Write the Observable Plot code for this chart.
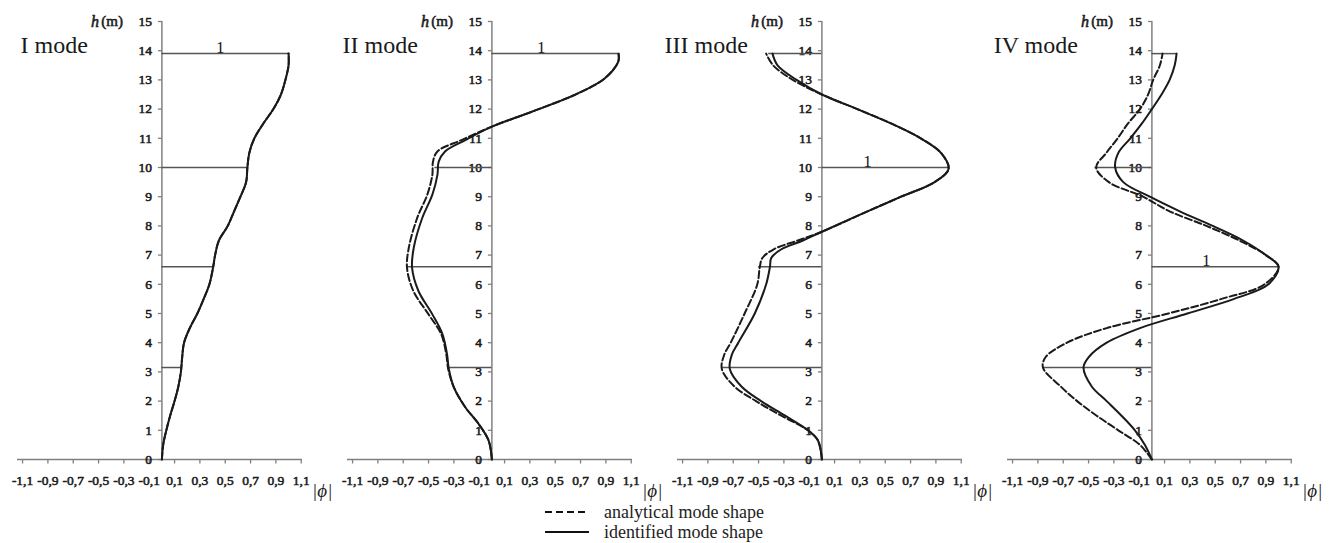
<!DOCTYPE html>
<html>
<head>
<meta charset="utf-8">
<script src="https://cdn.jsdelivr.net/npm/d3@7"></script>
<script src="https://cdn.jsdelivr.net/npm/@observablehq/plot@0.6"></script>
<style>
  body { margin: 0; background: #fff; font-family: "Liberation Serif", serif; }
  #chart { position: absolute; left: 0; top: 0; }
  #legend { position: absolute; left: 545px; top: 502px; font-size: 18px; color: #222; }
  .row { height: 20px; display: flex; align-items: center; }
  .row svg { margin-right: 15px; }
</style>
</head>
<body>
<div id="chart"></div>
<div id="legend">
  <div class="row"><svg width="44" height="20"><line x1="0" x2="44" y1="10" y2="10" stroke="#111" stroke-width="2" stroke-dasharray="7,4"/></svg><span>analytical mode shape</span></div>
  <div class="row"><svg width="44" height="20"><line x1="0" x2="44" y1="10" y2="10" stroke="#111" stroke-width="2"/></svg><span>identified mode shape</span></div>
</div>
<script>
// ---- data ----
const modes = ["I mode", "II mode", "III mode", "IV mode"];

const hMode1 = [0, 0.5, 1, 1.5, 2, 2.5, 3, 3.5, 4, 4.5, 5, 5.5, 6, 6.6, 7, 7.5, 8, 8.5, 9, 9.5, 10, 10.5, 11, 11.5, 12, 12.5, 13, 13.5, 13.9];
const identMode1 = [0, 0.01, 0.035, 0.065, 0.1, 0.13, 0.15, 0.16, 0.175, 0.22, 0.28, 0.33, 0.375, 0.405, 0.42, 0.45, 0.52, 0.57, 0.62, 0.665, 0.675, 0.69, 0.73, 0.8, 0.88, 0.94, 0.975, 1.0, 1.0];
const analMode1 = identMode1;

const hMode2 = [0, 0.65, 1.22, 1.79, 2.47, 3.1, 3.6, 4.29, 4.97, 5.77, 6.56, 7.25, 8.27, 9.07, 9.75, 10.2, 10.55, 10.94, 11.4, 11.91, 12.54, 13.05, 13.62, 13.9];
const identMode2 = [0, -0.026, -0.105, -0.21, -0.30, -0.34, -0.354, -0.39, -0.47, -0.58, -0.63, -0.617, -0.55, -0.47, -0.43, -0.42, -0.37, -0.21, 0, 0.315, 0.68, 0.89, 0.997, 1.0];
const analMode2 = [0, -0.026, -0.105, -0.21, -0.30, -0.345, -0.36, -0.40, -0.50, -0.62, -0.67, -0.656, -0.59, -0.51, -0.47, -0.465, -0.43, -0.24, 0, 0.315, 0.68, 0.89, 0.997, 1.0];

const hMode3 = [0, 0.65, 1, 1.5, 2, 2.5, 3.1, 3.6, 4, 5, 6, 6.6, 6.9, 7.2, 7.5, 7.8, 8.5, 9, 9.5, 9.95, 10.5, 11, 11.5, 12, 12.5, 13, 13.5, 13.9];
const identMode3 = [0, -0.031, -0.11, -0.29, -0.48, -0.635, -0.727, -0.71, -0.66, -0.53, -0.44, -0.41, -0.40, -0.32, -0.15, 0, 0.36, 0.625, 0.89, 1.0, 0.94, 0.78, 0.55, 0.28, 0, -0.2, -0.35, -0.39];
const analMode3 = [0, -0.031, -0.11, -0.32, -0.52, -0.69, -0.79, -0.77, -0.72, -0.61, -0.51, -0.49, -0.47, -0.38, -0.19, 0, 0.36, 0.625, 0.89, 1.0, 0.94, 0.78, 0.55, 0.28, 0, -0.23, -0.385, -0.44];

const hMode4 = [0, 0.5, 1, 1.5, 2, 2.5, 3.15, 3.5, 4, 4.5, 5, 5.5, 6, 6.6, 7, 7.5, 8, 8.5, 9, 9.5, 10, 10.5, 11, 11.5, 12, 12.5, 13, 13.5, 13.9];
const identMode4 = [0, -0.055, -0.134, -0.24, -0.357, -0.475, -0.54, -0.50, -0.357, -0.094, 0.28, 0.65, 0.92, 1.0, 0.90, 0.72, 0.48, 0.22, -0.016, -0.226, -0.29, -0.265, -0.17, -0.08, 0, 0.076, 0.14, 0.18, 0.195];
const analMode4 = [0, -0.094, -0.265, -0.436, -0.59, -0.72, -0.86, -0.84, -0.67, -0.357, 0.13, 0.55, 0.89, 1.0, 0.90, 0.69, 0.43, 0.14, -0.07, -0.34, -0.44, -0.36, -0.27, -0.19, -0.094, -0.03, 0.01, 0.063, 0.084];

// floor levels (m) and the extent of the floor line in each mode
const floorH = [3.15, 6.6, 10.0, 13.9];
const floorExtMode1 = [0.16, 0.41, 0.675, 1.0];
const floorExtMode2 = [-0.35, -0.67, -0.45, 1.0];
const floorExtMode3 = [-0.79, -0.5, 1.0, -0.42];
const floorExtMode4 = [-0.86, 1.0, -0.45, 0.2];

// "1" (unit normalisation) labels
const unitLabelX = [0.46, 0.39, 0.36, 0.43];
const unitLabelH = [13.9, 13.9, 10.0, 6.6];

// axis ticks
const hTicks = d3.range(0, 16);
const phiTicks = [-1.1, -0.9, -0.7, -0.5, -0.3, -0.1, 0.1, 0.3, 0.5, 0.7, 0.9, 1.1];
const phiTickLabels = ["-1,1", "-0,9", "-0,7", "-0,5", "-0,3", "-0,1", "0,1", "0,3", "0,5", "0,7", "0,9", "1,1"];

// ---- tables ----
const hs = [hMode1, hMode2, hMode3, hMode4];
const idents = [identMode1, identMode2, identMode3, identMode4];
const anals = [analMode1, analMode2, analMode3, analMode4];
const exts = [floorExtMode1, floorExtMode2, floorExtMode3, floorExtMode4];

const identRows = [], analRows = [], floorRows = [], unitRows = [];
modes.forEach((m, i) => {
  hs[i].forEach((h, j) => {
    identRows.push({mode: m, h, phi: idents[i][j]});
    analRows.push({mode: m, h, phi: anals[i][j]});
  });
  floorH.forEach((h, j) => floorRows.push({mode: m, h, ext: exts[i][j]}));
  unitRows.push({mode: m, x: unitLabelX[i], h: unitLabelH[i]});
});
const xTickRows = phiTicks.map((v, i) => ({v, label: phiTickLabels[i]}));

// tick symbols
const tickLeft = {draw(ctx, size) { const l = Math.sqrt(size / Math.PI); ctx.moveTo(-l, 0); ctx.lineTo(0, 0); }};
const tickDown = {draw(ctx, size) { const l = Math.sqrt(size / Math.PI); ctx.moveTo(0, 0); ctx.lineTo(0, l); }};

const axisColor = "#808080";
const ink = "#1a1a1a";
const serif = "'Liberation Serif', 'Times New Roman', serif";
// faux-bold serif text (thin stroke of the same ink)
const boldText = {fontFamily: serif, fill: ink, stroke: ink, strokeWidth: 0.55, paintOrder: "fill"};

const chart = Plot.plot({
  width: 1333,
  height: 506,
  marginLeft: 16,
  marginRight: 39,
  marginTop: 21,
  marginBottom: 47,
  style: {fontFamily: serif, background: "white", color: ink},
  fx: {domain: modes, paddingInner: 0.1353, paddingOuter: 0, axis: null, label: null},
  x: {domain: [-1.14, 1.11], axis: null},
  y: {domain: [0, 15], axis: null},
  marks: [
    // axes
    Plot.ruleY([0], {stroke: axisColor, strokeWidth: 1.5}),
    Plot.ruleX([0], {y1: 0, y2: 15, stroke: axisColor, strokeWidth: 1.5}),
    Plot.dot(hTicks, {x: 0, y: d => d, r: 4, symbol: tickLeft, fill: "none", stroke: axisColor, strokeWidth: 1.3}),
    Plot.dot(phiTicks, {x: d => d, y: 0, r: 4, symbol: tickDown, fill: "none", stroke: axisColor, strokeWidth: 1.3}),
    Plot.text(hTicks, {x: 0, y: d => d, text: d => String(d), dx: -10, textAnchor: "end", fontSize: 13.5, ...boldText}),
    Plot.text(xTickRows, {x: "v", y: 0, text: "label", dy: 21, fontSize: 13.5, ...boldText}),
    Plot.text(["(m)"], {x: 0, y: 15, text: d => d, dx: -39, textAnchor: "end", fontSize: 15, ...boldText}),
    Plot.text(["h"], {x: 0, y: 15, text: d => d, dx: -63, textAnchor: "end", fontStyle: "italic", fontSize: 16, ...boldText}),
    Plot.text(["|ϕ|"], {x: 1.1, y: 0, text: d => d, dx: 21, dy: 31, fontSize: 19, fontStyle: "italic", fontFamily: serif, fill: ink}),
    // floor lines
    Plot.ruleY(floorRows, {fx: "mode", y: "h", x1: 0, x2: "ext", stroke: "#555", strokeWidth: 1.5}),
    Plot.text(unitRows, {fx: "mode", x: "x", y: "h", text: () => "1", lineAnchor: "bottom", dy: -1, fontSize: 17, fontFamily: serif, fill: ink}),
    // mode shapes
    Plot.line(analRows, {fx: "mode", x: "phi", y: "h", curve: "catmull-rom", stroke: ink, strokeWidth: 2, strokeDasharray: "7,3"}),
    Plot.line(identRows, {fx: "mode", x: "phi", y: "h", curve: "catmull-rom", stroke: ink, strokeWidth: 2}),
    // titles
    Plot.text(modes, {fx: d => d, x: 0, y: 14.2, text: d => d, dx: -74, textAnchor: "end", fontSize: 24, fontFamily: serif, fill: ink})
  ]
});
document.getElementById("chart").append(chart);
</script>
</body>
</html>
